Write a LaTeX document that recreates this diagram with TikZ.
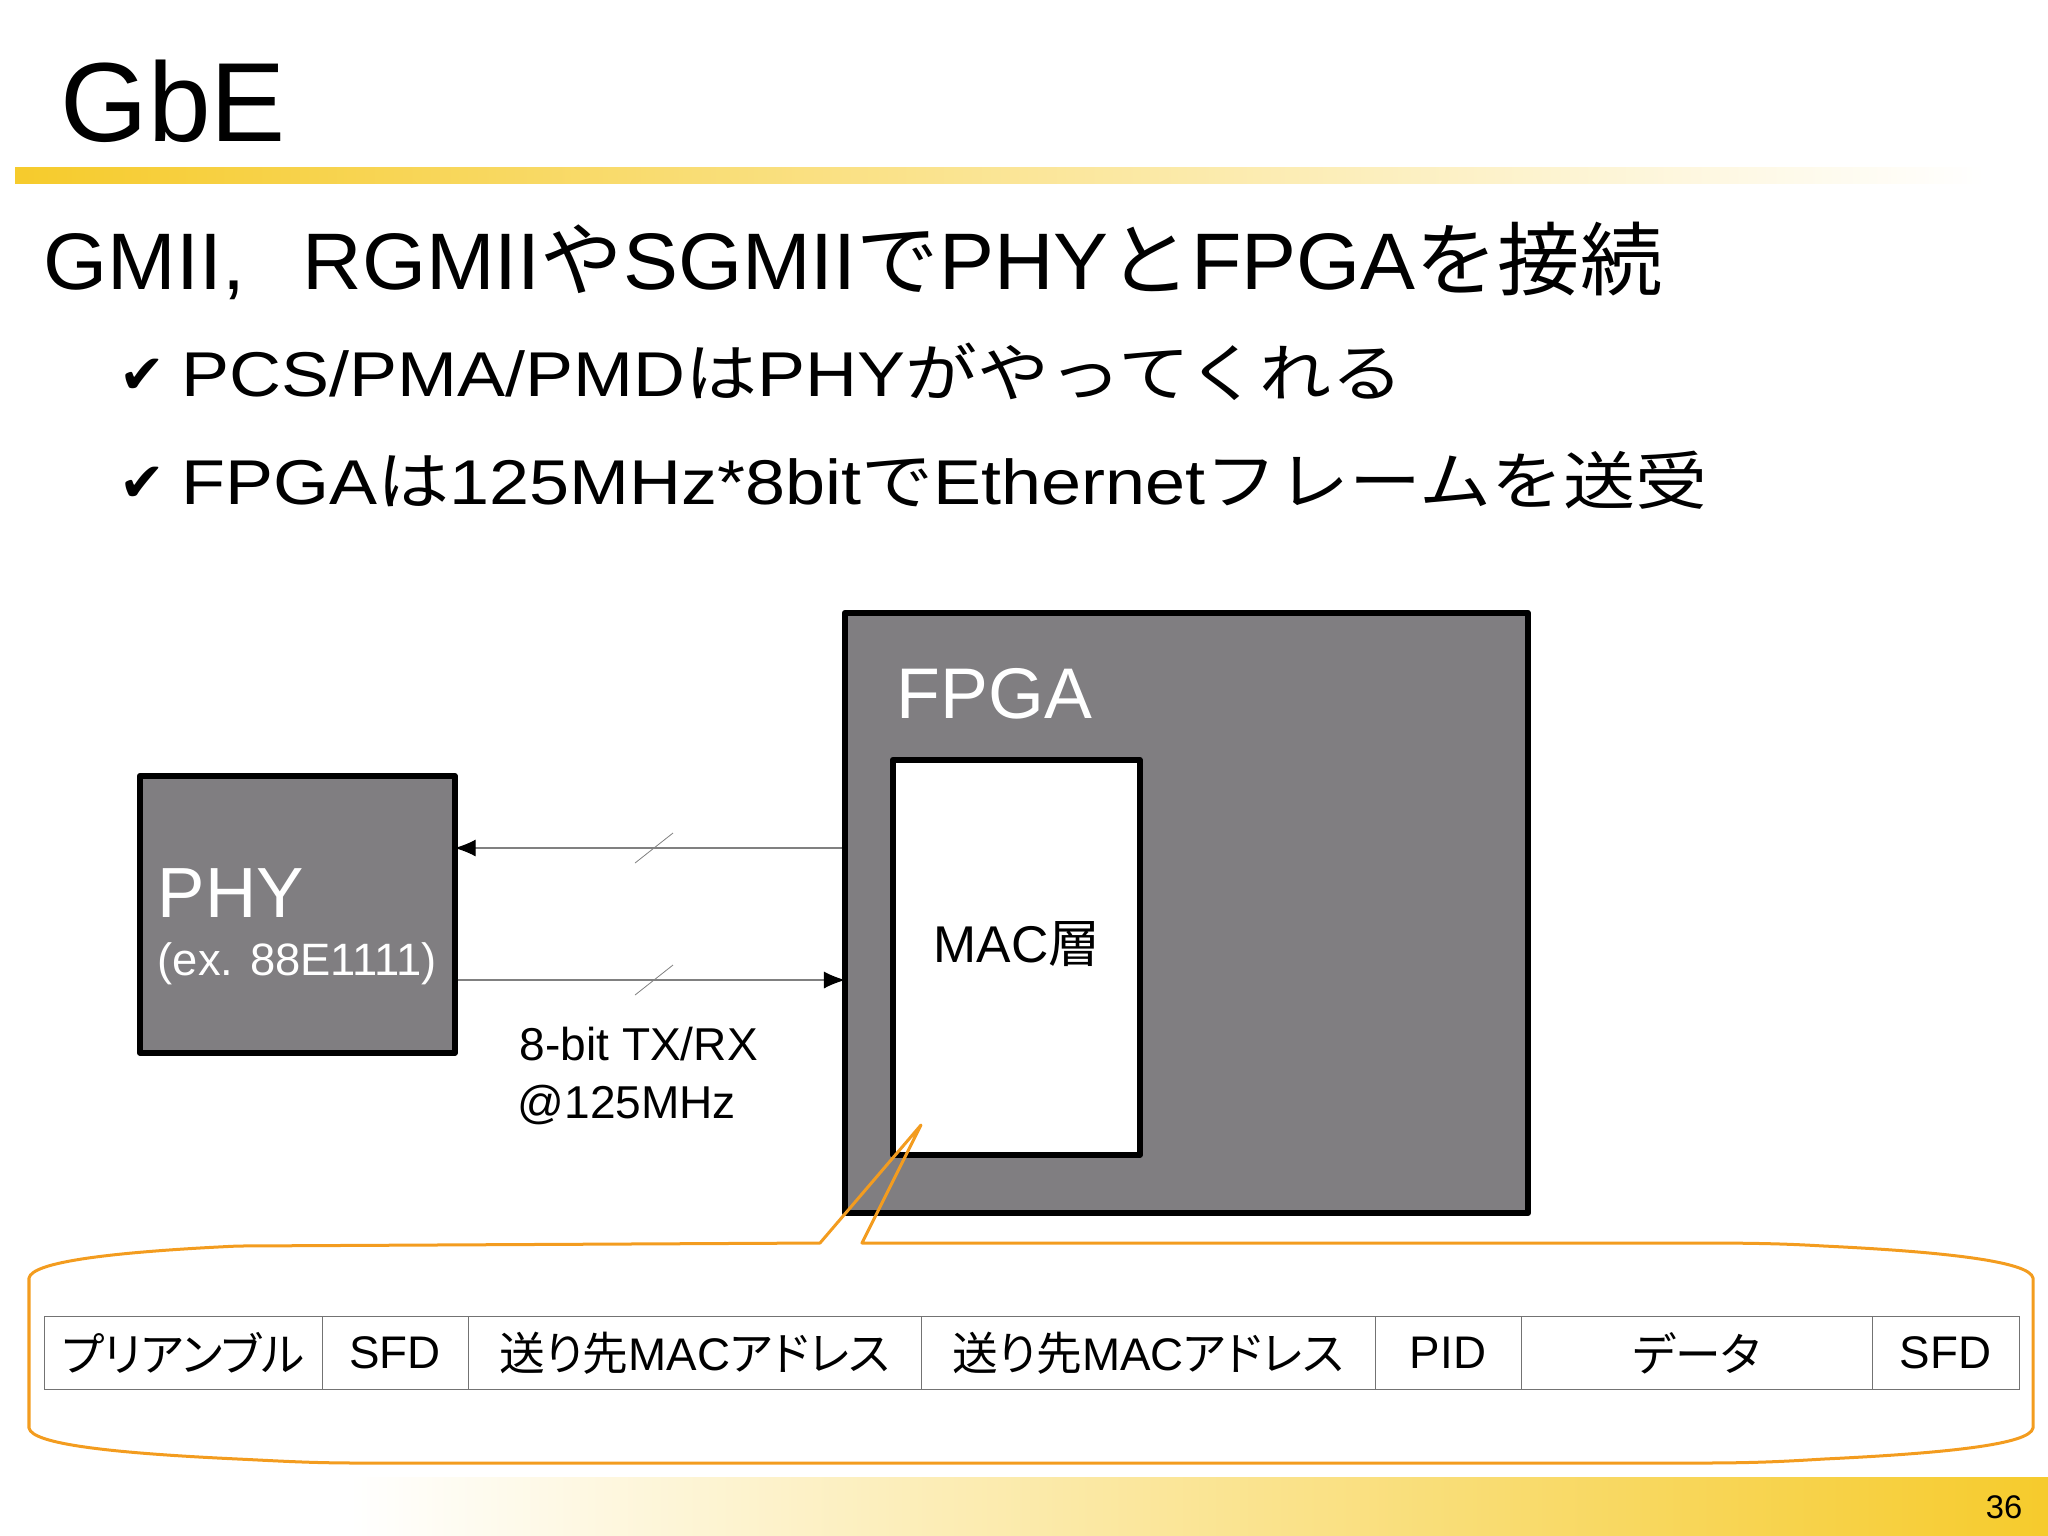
\documentclass[tikz,border=0pt]{standalone}
\usepackage{fontspec}
\setmainfont{Liberation Sans}
\newfontfamily\jpfont{Noto Sans CJK JP}
\newfontfamily\jpnarrow[RawFeature={+palt}]{Noto Sans CJK JP}
\newfontfamily\markfont{DejaVu Sans}
\newcommand{\jp}[1]{{\jpfont #1}}
\newcommand{\jc}[1]{{\jpnarrow #1}}
\usetikzlibrary{arrows.meta}
\definecolor{barYellow}{HTML}{F6CB2C}
\definecolor{blockGray}{HTML}{807E81}
\definecolor{calloutOrange}{HTML}{F39C1F}
\tikzset{>={Latex[length=2.1mm,width=1.7mm,color=black]}}
\tikzset{
	plaintext/.style={inner sep=0pt, anchor=base west},
	headline/.style={plaintext, font=\fontsize{32}{36}\selectfont},
	mainline/.style={plaintext, xscale=1.028, transform shape, font=\fontsize{22.8}{27}\selectfont},
	subline/.style={plaintext, xscale=1.137, transform shape, font=\fontsize{18}{22}\selectfont},
	checkmark/.style={plaintext, font=\markfont\fontsize{15.5}{18}\selectfont},
	blockbox/.style={draw=black, fill=blockGray, line width=0.055cm, anchor=north west, line join=round},
	macbox/.style={blockbox, fill=white},
	link/.style={draw=black!50, line width=0.011cm, shorten >=-0.03cm},
	slash/.style={draw=black!50, line width=0.008cm},
	cell/.style={draw=black!55, line width=0.01cm, minimum height=0.73cm, inner sep=0pt, anchor=north west, font=\fontsize{13}{16}\selectfont},
}
\begin{document}
\begin{tikzpicture}[x=0.01cm, y=-0.01cm]
	\useasboundingbox (0,0) rectangle (2048,1535);

	% Bars
	\shade[left color=barYellow, middle color=barYellow!62!white, right color=white] (15,167) rectangle (1985,183);
	\shade[left color=white, middle color=barYellow!62!white, right color=barYellow] (350,1477) rectangle (2048,1535);
	\node[plaintext, font=\fontsize{9.3}{11}\selectfont, anchor=base east] (pagenum) at (2023,1518) {36};

	% Text lines
	\node[headline] (title) at (60,141) {GbE};
	\node[mainline] (line1) at (43,289) {GMII,\hspace{15.9pt}RGMII\jp{や}SGMII\jp{で}PHY\jp{と}FPGA\jp{を接続}};
	\node[checkmark] (check1) at (119,393) {✔};
	\node[subline] (line2) at (181,396) {PCS/PMA/PMD\jp{は}PHY\jp{がやってくれる}};
	\node[checkmark] (check2) at (119,501) {✔};
	\node[subline] (line3) at (181,504) {FPGA\jp{は}125MHz*8bit\jp{で}Ethernet\jp{フレームを送受}};

	% PHY block
	\node[blockbox, minimum width=3.15cm, minimum height=2.77cm] (phy) at (137,773) {};
	\node[plaintext, text=white, font=\fontsize{20.2}{24}\selectfont] (phyname) at (157,917) {PHY};
	\node[plaintext, text=white, font=\fontsize{12.9}{15}\selectfont] (phynote) at (157,975) {(ex. 88E1111)};

	% FPGA block
	\node[blockbox, minimum width=6.83cm, minimum height=6.00cm] (fpga) at (842,610) {};
	\node[plaintext, text=white, font=\fontsize{20.4}{24}\selectfont] (fpganame) at (896,718) {FPGA};
	\node[macbox, minimum width=2.47cm, minimum height=3.95cm] (mac) at (890,757) {};
	\node[plaintext, font=\fontsize{14.7}{18}\selectfont] (macname) at (933,962) {MAC\jp{層}};

	% Links
	\coordinate (rx) at (650,848);
	\coordinate (tx) at (650,980);
	\draw[link, ->] (fpga.west |- rx) -- (phy.east |- rx);
	\draw[link, ->] (phy.east |- tx) -- (fpga.west |- tx);
	\draw[slash] (rx) ++(-15,15) -- ++(38,-30);
	\draw[slash] (tx) ++(-15,15) -- ++(38,-30);
	\node[plaintext, font=\fontsize{13.1}{16}\selectfont] (width) at (519,1060) {8-bit TX/RX};
	\node[plaintext, font=\fontsize{13.1}{16}\selectfont] (clock) at (517,1118) {@125MHz};

	% Frame fields
	\foreach \i/\cx/\cw/\txt in {
		1/43.5/2.78/\jc{プリアンブル},
		2/321.5/1.46/SFD,
		3/467.5/4.53/\jc{送り先}MAC\jc{アドレス},
		4/920.5/4.54/\jc{送り先}MAC\jc{アドレス},
		5/1374.5/1.46/PID,
		6/1520.5/3.51/\jc{データ},
		7/1871.5/1.47/SFD}
		\node[cell, minimum width=\cw cm] (field\i) at (\cx,1316) {\txt};

	% Callout
	\coordinate (tip) at (921,1125);
	\draw[calloutOrange, line width=0.03cm, line join=round]
		(29,1278) .. controls (32,1262) and (110,1252) .. (238,1246)
		-- (820,1243) -- (tip) -- (862,1243) -- (1700,1243)
		.. controls (1760,1243) and (1790,1244) .. (1824,1246)
		.. controls (1950,1252) and (2030,1262) .. (2033,1278)
		-- (2033,1428)
		.. controls (2030,1444) and (1950,1453) .. (1824,1459)
		.. controls (1790,1461) and (1760,1463) .. (1700,1463)
		-- (360,1463)
		.. controls (310,1463) and (280,1461) .. (238,1459)
		.. controls (110,1453) and (32,1444) .. (29,1428)
		-- cycle;
\end{tikzpicture}
\end{document}
